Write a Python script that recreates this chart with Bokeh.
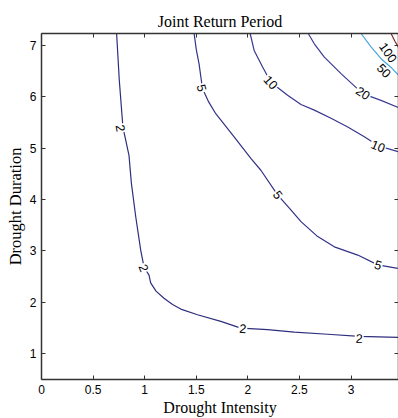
from bokeh.plotting import figure
from bokeh.models import LinearAxis, FixedTicker, Range1d, ColumnDataSource
from bokeh.embed import file_html
from bokeh.resources import INLINE
from bokeh.core.properties import value

title_text = "Joint Return Period"
x_label = "Drought Intensity"
y_label = "Drought Duration"
x_ticks = [0, 0.5, 1, 1.5, 2, 2.5, 3]
x_tick_labels = ["0", "0.5", "1", "1.5", "2", "2.5", "3"]
y_ticks = [1, 2, 3, 4, 5, 6, 7]
y_tick_labels = ["1", "2", "3", "4", "5", "6", "7"]

# contour levels (joint return period)
levels = [2, 5, 10, 20, 50, 100]

c2_x = [0.728, 0.754, 0.789, 0.848, 0.871, 0.913, 0.961, 0.993, 1.020, 1.042, 1.058, 1.110, 1.187,
        1.270, 1.350, 1.512, 1.738, 1.932, 2.191, 2.450, 2.774, 3.080, 3.463]
c2_y = [7.23, 6.32, 5.41, 4.86, 4.32, 3.67, 3.02, 2.69, 2.60, 2.53, 2.38, 2.22, 2.08,
        1.96, 1.87, 1.76, 1.63, 1.50, 1.47, 1.42, 1.38, 1.34, 1.32]

c5_x = [1.479, 1.500, 1.527, 1.560, 1.620, 1.689, 1.867, 2.029, 2.126, 2.288, 2.417, 2.515,
        2.677, 2.838, 3.065, 3.259, 3.453]
c5_y = [7.23, 6.92, 6.64, 6.16, 5.90, 5.67, 5.22, 4.80, 4.57, 4.09, 3.80, 3.57,
        3.28, 3.08, 2.92, 2.73, 2.66]

c10_x = [2.022, 2.061, 2.143, 2.223, 2.385, 2.515, 2.644, 2.806, 2.968, 3.129, 3.259, 3.456]
c10_y = [7.23, 6.90, 6.58, 6.28, 6.03, 5.85, 5.74, 5.58, 5.41, 5.22, 5.05, 4.93]

c20_x = [2.585, 2.644, 2.741, 2.903, 3.113, 3.290, 3.459]
c20_y = [7.23, 7.03, 6.77, 6.45, 6.06, 5.93, 5.79]

c50_x = [3.097, 3.194, 3.291, 3.388, 3.459]
c50_y = [7.23, 6.97, 6.74, 6.57, 6.42]

c100_x = [3.388, 3.425, 3.466]
c100_y = [7.23, 7.08, 6.94]

contour_x = [c2_x, c5_x, c10_x, c20_x, c50_x, c100_x]
contour_y = [c2_y, c5_y, c10_y, c20_y, c50_y, c100_y]
contour_colors = ["#2e2e7e", "#323288", "#36368e", "#3a3a98", "#4aa6dc", "#7a2a2a"]

# inline contour labels
label_text = ["2", "2", "2", "2", "5", "5", "5", "10", "10", "20", "50", "100"]
label_x = [0.767, 0.990, 1.951, 3.078, 1.553, 2.291, 3.262, 2.223, 3.262, 3.117, 3.320, 3.360]
label_y = [5.39, 2.67, 1.49, 1.30, 6.17, 4.09, 2.73, 6.28, 5.04, 6.07, 6.51, 6.86]
label_angle = [-80, -68, -5, -3, -75, -53, -17, -48, -22, -34, -46, -55]

p = figure(width=398, height=418, output_backend="svg", toolbar_location=None,
           x_range=Range1d(0, 3.46), y_range=Range1d(0.5, 7.23),
           min_border_left=41, min_border_right=0, min_border_top=33, min_border_bottom=38,
           background_fill_color="white", border_fill_color="white")

p.title.text = title_text
p.title.text_font = "Liberation Serif"
p.title.text_font_size = "16px"
p.title.text_font_style = "normal"
p.title.align = "center"
p.title.text_color = "black"
p.title.standoff = 8

p.xgrid.visible = False
p.ygrid.visible = False
p.outline_line_color = None

axis_color = "#333333"

def style_axis(ax, ticks, labels=None, label_size="16px"):
    ax.ticker = FixedTicker(ticks=ticks)
    ax.major_tick_in = 4
    ax.major_tick_out = 0
    ax.minor_tick_in = 0
    ax.minor_tick_out = 0
    ax.axis_line_color = axis_color
    ax.axis_line_width = 1.5
    ax.major_tick_line_color = axis_color
    if labels is not None:
        ax.major_label_overrides = {t: l for t, l in zip(ticks, labels)}
        ax.major_label_text_font = "Liberation Sans"
        ax.major_label_text_font_size = "12px"
        ax.major_label_text_color = "black"
        ax.major_label_standoff = 5
        ax.axis_label_text_font = "Liberation Serif"
        ax.axis_label_text_font_size = label_size
        ax.axis_label_text_font_style = "normal"
        ax.axis_label_text_color = "black"
        ax.axis_label_standoff = 2
    else:
        ax.major_label_text_color = None
        ax.major_label_standoff = 0

style_axis(p.xaxis[0], x_ticks, x_tick_labels, "16px")
style_axis(p.yaxis[0], y_ticks, y_tick_labels, "16.5px")
p.xaxis[0].axis_label = x_label
p.yaxis[0].axis_label = y_label

top_axis = LinearAxis()
style_axis(top_axis, x_ticks)
p.add_layout(top_axis, "above")
right_axis = LinearAxis()
style_axis(right_axis, y_ticks)
p.add_layout(right_axis, "right")

p.multi_line(xs=contour_x, ys=contour_y, line_color=contour_colors, line_width=1.2)

src = ColumnDataSource(dict(x=label_x, y=label_y, text=label_text, angle=label_angle))
p.text(x="x", y="y", text="text", angle="angle", angle_units="deg", source=src,
       text_font=value("Liberation Sans"), text_font_size="12.5px", text_color="black",
       text_align="center", text_baseline="middle",
       background_fill_color="white", padding=1)

open("out.html", "w").write(file_html(p, INLINE))
